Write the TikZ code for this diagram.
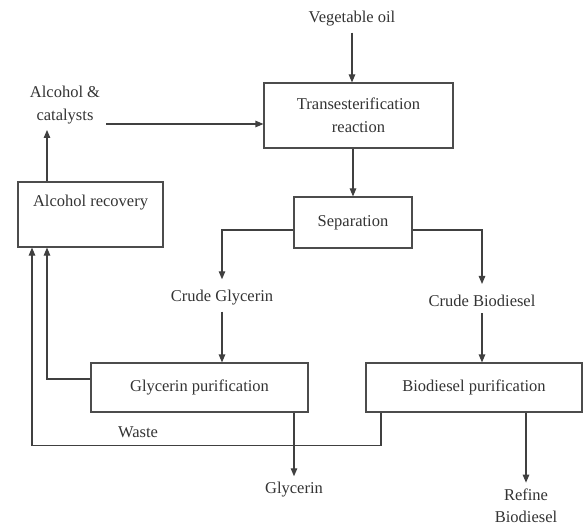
\documentclass[tikz,border=0pt]{standalone}
\usepackage{fontspec}
\setmainfont{Liberation Serif}
\usetikzlibrary{arrows.meta}
\tikzset{
  stage/.style={draw=black!70, line width=1.1pt, inner sep=0pt, align=center},
  flow/.style={inner sep=6pt, align=center},
  arr/.style={draw=black!75, line width=1.1pt, -{Triangle[length=8pt,width=6.5pt]}},
  link/.style={draw=black!70, line width=1.1pt}
}
\begin{document}
\begin{tikzpicture}[x=1pt, y=-1pt, font=\fontsize{16.5}{22.5}\selectfont, text=black!80]
\useasboundingbox (0,0) rectangle (583,529);
\node[flow] (oil) at (352,19) {Vegetable oil};
\node[stage, minimum width=189pt, minimum height=65pt] (trans) at (358.5,115.5) {Transesterification\\reaction};
\node[flow] (alcat) at (65,105) {Alcohol \&\\catalysts};
\node[stage, minimum width=145pt, minimum height=65pt] (recov) at (90.5,214.5) {};
\node (recovtxt) at (90.5,203) {Alcohol recovery};
\node[stage, minimum width=118pt, minimum height=51pt] (sep) at (353,222.5) {Separation};
\node[flow] (cgly) at (222,298) {Crude Glycerin};
\node[flow] (cbio) at (482,301) {Crude Biodiesel};
\node[stage, minimum width=217pt, minimum height=49pt] (gpur) at (199.5,387.5) {Glycerin purification};
\node[stage, minimum width=216pt, minimum height=49pt] (bpur) at (474,387.5) {Biodiesel purification};
\node (waste) at (138,432) {Waste};
\node[flow] (gly) at (294,490) {Glycerin};
\node[flow, inner ysep=3pt] (refine) at (526,506) {Refine\\Biodiesel};

\draw[arr] (oil.south) -- (oil.south |- trans.north);
\draw[arr] ([yshift=-8.5pt]trans.west -| alcat.east) -- ([yshift=-8.5pt]trans.west);
\draw[arr] ([xshift=-43.5pt]recov.north) -- ([xshift=-43.5pt]recov.north |- alcat.south);
\draw[arr] (sep.north |- trans.south) -- (sep.north);
\draw[arr, shorten >=5pt] ([yshift=-7.5pt]sep.west) -| (cgly.north);
\draw[arr, shorten >=5pt] ([yshift=-7.5pt]sep.east) -| (cbio.north);
\draw[arr] (cgly.south) -- (cgly.south |- gpur.north);
\draw[arr] (cbio.south) -- (cbio.south |- bpur.north);
\draw[arr] ([yshift=8.5pt]gpur.west) -| ([xshift=-43.5pt]recov.south);
\draw[arr] ([xshift=-93pt]bpur.south) -- ++(0,33) -| ([xshift=-58.5pt]recov.south);
\draw[arr] (gly.north |- gpur.south) -- (gly.north);
\draw[arr, shorten >=3pt] (refine.north |- bpur.south) -- (refine.north);
\end{tikzpicture}
\end{document}
